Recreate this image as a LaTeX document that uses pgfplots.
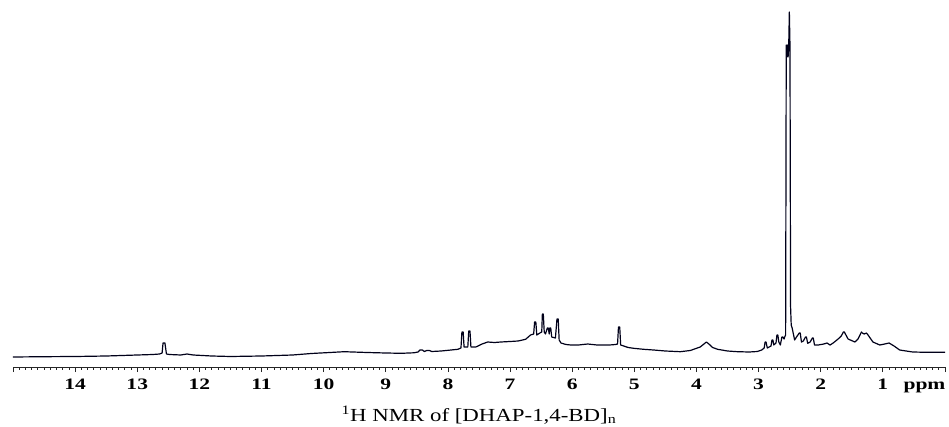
\documentclass[border=0pt]{standalone}
\usepackage{pgfplots}
\pgfplotsset{compat=1.18}
\usepackage{fontspec}
\setmainfont{Liberation Serif}
\begin{document}
\begin{tikzpicture}
\useasboundingbox (-13bp,-60bp) rectangle (936bp,367bp);
\begin{axis}[
  at={(0,0)}, anchor=south west,
  scale only axis, width=932bp, height=355bp,
  xmin=0, xmax=15, ymin=0, ymax=355,
  x dir=reverse,
  clip=false,
  axis x line*=bottom, axis y line=none,
  x axis line style={-, line width=0.9pt, color=black!85},
  xtick={0,...,15},
  xticklabels={{},1,2,3,4,5,6,7,8,9,10,11,12,13,14,{}},
  minor x tick num=9,
  tick align=outside,
  major tick length=5bp, minor tick length=2.5bp,
  every tick/.style={black!85, line width=0.8pt},
  /pgf/number format/assume math mode=true,
  typeset ticklabels with strut,
  xticklabel style={font=\bfseries\fontsize{16}{16}\selectfont, xscale=1.35, yshift=-3bp},
  extra x ticks={0.33},
  extra x tick labels={ppm},
  extra x tick style={major tick length=0pt, xticklabel style={xscale=1.0, yshift=-5bp}},
  xlabel={$^{\mathrm{1}}$H NMR of [DHAP-1,4-BD]$_{\mathrm{n}}$},
  xlabel style={at={(axis description cs:0.5,0)}, anchor=base, yshift=-54bp,
    font=\fontsize{18.5}{18.5}\selectfont, xscale=1.24},
]
\addplot[line width=1.2pt, color=black!90!blue, line join=round] coordinates {
(15.0,10) (14.5,10.3) (14.0,10.5) (13.5,11) (13.0,12) (12.75,12.5) (12.64,13) (12.60,14)
(12.585,24) (12.555,24) (12.53,13) (12.48,12.5) (12.30,12) (12.20,13) (12.10,12)
(11.8,11) (11.5,10.5) (11.0,11) (10.5,12) (10.2,13.5) (9.9,14.5) (9.67,15.3) (9.3,14.5)
(9.0,14) (8.75,13.7) (8.55,14.2) (8.48,15) (8.45,17) (8.41,17) (8.38,15.5) (8.34,16.5)
(8.30,16.5) (8.26,15.5) (8.11,16) (7.95,17) (7.84,17.7) (7.79,19)
(7.775,35) (7.755,35) (7.74,20) (7.68,20) (7.665,36) (7.645,36) (7.63,20)
(7.55,20) (7.45,23) (7.36,25) (7.25,24.5) (7.15,25) (7.0,25.5) (6.87,26) (6.75,27.7)
(6.67,32) (6.62,33) (6.605,45) (6.585,45) (6.57,32) (6.52,34) (6.49,35)
(6.48,53) (6.465,53) (6.45,35) (6.43,33) (6.40,39) (6.385,39) (6.37,33)
(6.36,39) (6.345,39) (6.33,30) (6.27,29) (6.245,48) (6.225,48) (6.21,27)
(6.18,24) (6.10,22.5) (6.02,22) (5.9,22) (5.75,23) (5.6,22) (5.4,22) (5.30,22.5)
(5.27,23) (5.255,40) (5.235,40) (5.22,22) (5.10,19.5) (5.01,18.7) (4.85,17.7)
(4.69,17) (4.5,16) (4.26,15.3) (4.10,16.5) (3.94,20) (3.88,23) (3.84,25) (3.80,23)
(3.74,19.5) (3.66,17.7) (3.5,16) (3.34,15.3) (3.15,15) (3.02,15.5) (2.95,17)
(2.91,19) (2.895,25) (2.88,25) (2.86,19) (2.80,21) (2.785,27) (2.77,27) (2.755,22)
(2.72,24) (2.705,32) (2.69,32) (2.675,25) (2.65,22) (2.625,30) (2.61,30) (2.59,28)
(2.58,30) (2.565,32) (2.555,322) (2.545,310) (2.535,322) (2.525,310) (2.515,322)
(2.505,355) (2.495,322) (2.485,60) (2.475,42) (2.46,39) (2.45,36) (2.42,27)
(2.39,30) (2.345,34) (2.33,34) (2.31,25) (2.28,26) (2.245,30) (2.23,30) (2.21,23.7)
(2.17,25) (2.135,29) (2.12,29) (2.10,22) (2.04,22) (1.95,23) (1.90,24) (1.85,22)
(1.80,24) (1.72,28) (1.67,31) (1.635,35) (1.62,35) (1.56,28) (1.45,25) (1.40,28)
(1.345,35) (1.33,34) (1.30,33) (1.265,34) (1.25,33) (1.16,25) (1.05,22) (0.97,23)
(0.90,24) (0.82,21) (0.73,17) (0.52,15) (0.3,14.7) (0.0,14.7)
};
\end{axis}
\end{tikzpicture}
\end{document}
